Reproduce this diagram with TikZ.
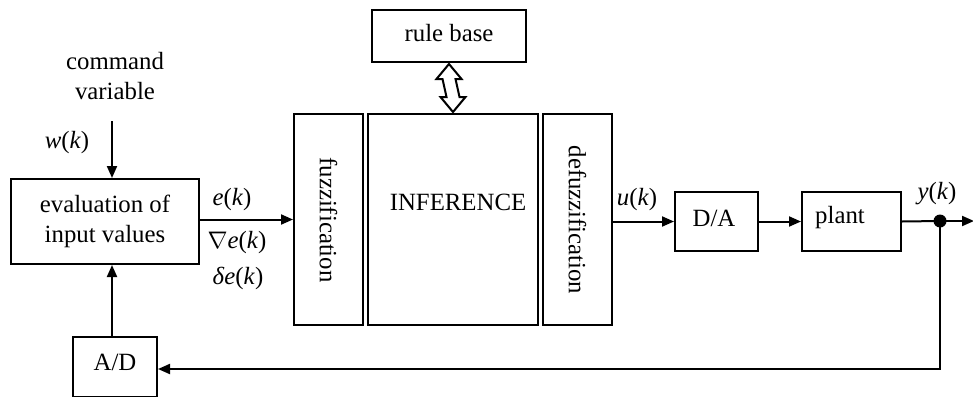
\documentclass[tikz,border=0pt]{standalone}
\usepackage{fontspec}
\setmainfont{Liberation Serif}
\usetikzlibrary{arrows.meta,calc}
\tikzset{
  blk/.style={draw,line width=1pt,inner sep=0pt,font=\fontsize{12.4}{15}\selectfont},
  lbl/.style={inner sep=0pt,font=\fontsize{12.4}{15}\selectfont,align=center},
  sig/.style={line width=1pt,-{Triangle[length=6pt,width=5pt]}},
  ln/.style={line width=1pt}
}
\newcommand{\ik}[1]{\textit{#1}(\textit{k})}
\begin{document}
\begin{tikzpicture}[x=0.5pt,y=-0.5pt]
\useasboundingbox (0,0) rectangle (973,396);
% boxes
\node[blk,minimum width=94pt,minimum height=42.5pt] (eval) at (105,221.5) {};
\node[lbl] at (105,221) {evaluation of\\input values};
\node[blk,minimum width=34.5pt,minimum height=105.5pt] (fuz) at (328.5,219.5) {};
\node[lbl,rotate=-90] at (328.5,220) {fuzzification};
\node[blk,minimum width=85pt,minimum height=105.5pt] (inf) at (453,219.5) {};
\node[lbl] at (458,202) {INFERENCE};
\node[blk,minimum width=34.5pt,minimum height=105.5pt] (defuz) at (577.5,219.5) {};
\node[lbl,rotate=-90] at (577.5,220) {defuzzification};
\node[blk,minimum width=77pt,minimum height=26pt] (rb) at (449,36) {};
\node[lbl] at (449,33) {rule base};
\node[blk,minimum width=41.5pt,minimum height=29.5pt] (da) at (716.5,221.5) {};
\node[lbl] at (714,218) {D/A};
\node[blk,minimum width=49.5pt,minimum height=29.5pt] (pl) at (851.5,221.5) {};
\node[lbl] at (840,218) {plant};
\node[blk,minimum width=42pt,minimum height=30pt] (ad) at (115,367) {};
\node[lbl] at (115,362) {A/D};
% labels
\node[lbl] (cmd) at (115,76) {command\\variable};
\node[lbl] (w) at (67,143) {\ik{w}};
\node[lbl] (e) at (232,200) {\ik{e}};
\node[lbl] (ne) at (237,243) {$\nabla$\ik{e}};
\node[lbl] (de) at (238,278) {\textit{δ}\ik{e}};
\node[lbl] (u) at (637,200) {\ik{u}};
\node[lbl] (y) at (937,194) {\ik{y}};
% connectors
\coordinate (win) at (112,121);
\draw[sig] (win) -- (win|-eval.north);
\draw[sig] (eval.east|-fuz.west) -- (fuz.west);
\draw[sig] (defuz.east|-da.west) -- (da.west);
\draw[sig] (da.east) -- (pl.west);
\coordinate (dot) at (940,221);
\coordinate (out) at (974,221);
\coordinate (fb) at (940,369);
\draw[ln] (pl.east) -- (dot);
\draw[sig] (dot) -- (out);
\fill (dot) circle (6.5);
\draw[sig] (dot) -- (fb) -- (fb-|ad.east);
\draw[sig] (ad.north-|win) -- (win|-eval.south);
% double arrow rule base <-> inference
\coordinate (t) at (rb.south);
\coordinate (b) at (inf.north);
\draw[line width=1pt,fill=white,line join=miter]
  ($(t)+(0,1)$) -- ($(t)+(12.5,16)$) -- ($(t)+(6.5,16)$) -- ($(b)+(6.5,-16)$) -- ($(b)+(12.5,-16)$)
  -- ($(b)+(0,-1)$) -- ($(b)+(-12.5,-16)$) -- ($(b)+(-6.5,-16)$) -- ($(t)+(-6.5,16)$) -- ($(t)+(-12.5,16)$) -- cycle;
\end{tikzpicture}
\end{document}
